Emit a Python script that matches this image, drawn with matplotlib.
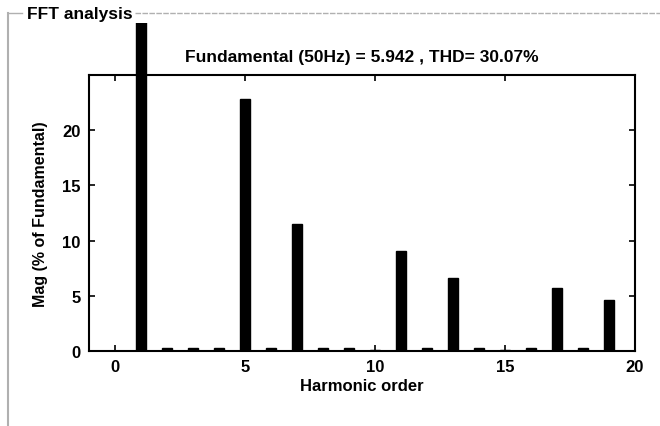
import matplotlib
matplotlib.use("Agg")
import matplotlib.pyplot as plt
from matplotlib.transforms import Bbox, TransformedBbox
from matplotlib.lines import Line2D

plt.rcParams['font.family'] = ['Liberation Sans', 'DejaVu Sans']
plt.rcParams['font.weight'] = 'bold'

# harmonic spectrum, % of fundamental
harmonic = list(range(0, 20))
mag = [0.0, 100.0, 0.3, 0.3, 0.3, 22.8, 0.3, 11.5, 0.3, 0.3,
       0.1, 9.05, 0.3, 6.6, 0.3, 0.1, 0.3, 5.7, 0.3, 4.6]
x_ticks = [0, 5, 10, 15, 20]
y_ticks = [0, 5, 10, 15, 20]
title = "Fundamental (50Hz) = 5.942 , THD= 30.07%"

W, H = 660, 427
fig = plt.figure(figsize=(W / 100, H / 100), dpi=100)
ax = fig.add_axes([89 / W, 1 - 352 / H, (635 - 89) / W, (352 - 76) / H])

bars = ax.bar(harmonic, mag, width=0.4, color='black', edgecolor='black')
# the fundamental bar runs past the axes, cut at the panel edge
top_clip = TransformedBbox(Bbox([[0, 1 - 352 / H], [1, 1 - 24 / H]]), fig.transFigure)
for b in bars:
    b.set_clip_path(None)
    b.set_clip_box(top_clip)
    b.set_clip_on(True)

ax.set_xlim(-1, 20)
ax.set_ylim(0, 25)
ax.set_xticks(x_ticks)
ax.set_yticks(y_ticks)
ax.tick_params(direction='in', length=4, width=1.2, top=True, right=True,
               labelsize=12, pad=6)
for lbl in ax.get_xticklabels() + ax.get_yticklabels():
    lbl.set_fontweight('bold')
for s in ax.spines.values():
    s.set_linewidth(1.5)

ax.set_title(title, fontsize=12.5, fontweight='bold', pad=10)
ax.set_xlabel("Harmonic order", fontsize=12, fontweight='bold', labelpad=3)
ax.set_ylabel("Mag (% of Fundamental)", fontsize=11.5, fontweight='bold', labelpad=10)

# panel frame of the GUI group box
gray = '#b0b0b0'
fig.add_artist(Line2D([8 / W, 8 / W], [0, 1 - 14 / H], color=gray, lw=1.5,
                      transform=fig.transFigure))
fig.add_artist(Line2D([8 / W, 22 / W], [1 - 14 / H, 1 - 14 / H], color=gray, lw=1,
                      transform=fig.transFigure))
fig.add_artist(Line2D([135 / W, 1], [1 - 14 / H, 1 - 14 / H], color=gray, lw=1,
                      linestyle=(0, (4, 1)), transform=fig.transFigure))
fig.text(27 / W, 1 - 14 / H, "FFT analysis", fontsize=12.5, fontweight='bold',
         va='center', ha='left')

fig.savefig("out.png", dpi=100)
